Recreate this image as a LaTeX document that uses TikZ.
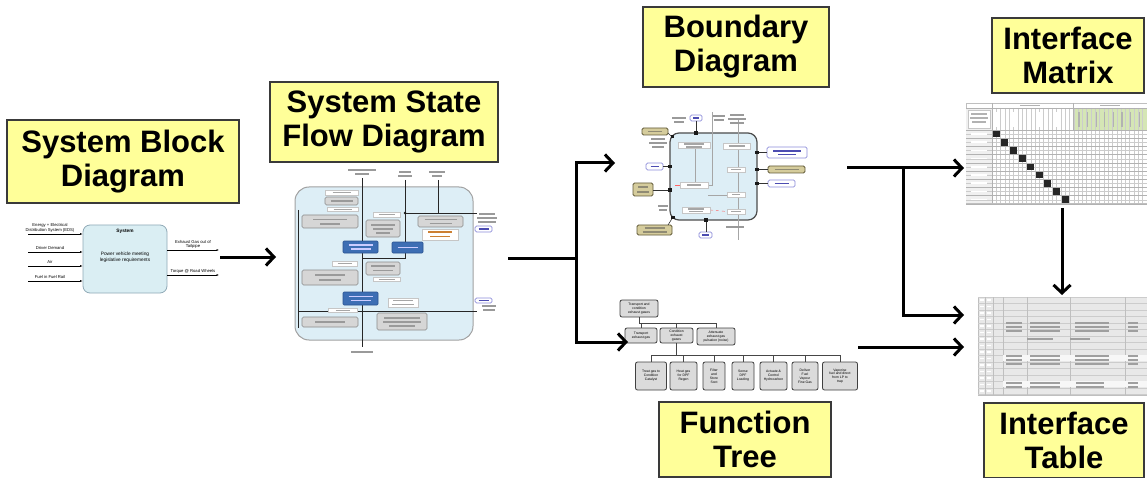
\documentclass[tikz,border=0pt]{standalone}
\usepackage{fontspec}
\setmainfont{Liberation Sans}
\usetikzlibrary{arrows.meta}

\definecolor{lblfill}{HTML}{FFFF99}
\definecolor{lbldraw}{HTML}{3A3A3A}
\definecolor{sysfill}{HTML}{DAEEF3}
\definecolor{sysdraw}{HTML}{8FA9B6}
\definecolor{flowfill}{HTML}{DDEEF6}
\definecolor{bluebox}{HTML}{3D6EB4}
\definecolor{blueedge}{HTML}{2B5390}
\definecolor{greybox}{HTML}{D6D6D6}
\definecolor{greyedge}{HTML}{8A8A8A}
\definecolor{khaki}{HTML}{D5CC9C}
\definecolor{khakiedge}{HTML}{615A38}
\definecolor{hdrgreen}{HTML}{D5E6B5}
\definecolor{inkgrey}{HTML}{9A9A9A}

% short grey stroke standing for a line of unreadably small print
\newcommand\tbar[4][inkgrey]{\draw[line width=1.1pt,#1] ({#2-#4/2},#3) -- ({#2+#4/2},#3);}

\begin{document}
\begin{tikzpicture}[x=1pt,y=-1pt,
  lbl/.style={draw=lbldraw,line width=1.6pt,fill=lblfill,inner sep=0pt,align=center,
    font=\fontsize{31}{34}\selectfont\bfseries},
  bigarrow/.style={line width=3pt,-{Straight Barb[length=8pt,width=17pt]}},
  bigline/.style={line width=3pt},
  tiny/.style={font=\fontsize{4.2}{4.8}\selectfont,inner sep=0pt,align=center},
  sysbox/.style={draw=sysdraw,line width=0.8pt,fill=sysfill,rounded corners=7pt,inner sep=0pt},
  sysin/.style={line width=0.6pt,-{Latex[length=2.5pt,width=2pt]}},
  fline/.style={line width=0.8pt,gray!30!black},
  gbox/.style={draw=greyedge,fill=greybox,rounded corners=1.5pt,line width=0.6pt},
  bbox/.style={draw=blueedge,fill=bluebox,rounded corners=1pt,line width=0.6pt},
  wbox/.style={draw=gray!45,fill=white,line width=0.4pt},
  ebox/.style={draw=gray!50!blue!60,fill=white,rounded corners=1.5pt,line width=0.7pt},
  kbox/.style={draw=khakiedge,fill=khaki,rounded corners=1.5pt,line width=0.9pt},
  port/.style={fill=gray!20!black},
  ftbox/.style={draw=gray!50!black,fill=gray!28,rounded corners=2pt,line width=0.8pt,
    inner sep=0.5pt,align=center,font=\fontsize{3.4}{3.9}\selectfont},
  ftline/.style={line width=0.8pt,gray!55!black}]

\useasboundingbox (0,0) rectangle (1147,478);

%% ---------- title labels ----------
\node[lbl,minimum width=232pt,minimum height=83pt] (sbdlbl) at (123,161.5) {System Block\\Diagram};
\node[lbl,minimum width=228pt,minimum height=80pt] (ssflbl) at (384,122) {System State\\Flow Diagram};
\node[lbl,minimum width=186pt,minimum height=80pt] (bdlbl) at (736,47) {Boundary\\Diagram};
\node[lbl,minimum width=152pt,minimum height=75pt] (imlbl) at (1068,55.5) {Interface\\Matrix};
\node[lbl,minimum width=172pt,minimum height=75pt] (ftlbl) at (745,439.5) {Function\\Tree};
\node[lbl,minimum width=160pt,minimum height=75pt] (itlbl) at (1064,440.5) {Interface\\Table};

%% ---------- system block diagram ----------
\node[sysbox,minimum width=84pt,minimum height=68pt] (sys) at (125,259) {};
\node[tiny,font=\fontsize{4.8}{5.2}\selectfont\bfseries] (systitle) at (125,231) {System};
\node[tiny,font=\fontsize{4.8}{5.8}\selectfont] (sysfn) at (125,257) {Power vehicle meeting\\legislative requirements};
\coordinate (in1) at (28,234);
\coordinate (in2) at (28,252);
\coordinate (in3) at (28,266);
\coordinate (in4) at (28,281);
\foreach \c in {in1,in2,in3,in4} \draw[sysin] (\c) -- (\c -| sys.west);
\node[tiny] (in1l) at (50,228) {Energy + Electrical\\Distribution System (EDS)};
\node[tiny] (in2l) at (50,248) {Driver Demand};
\node[tiny] (in3l) at (50,262) {Air};
\node[tiny] (in4l) at (50,277) {Fuel in Fuel Rail};
\coordinate (out1) at (219,250);
\coordinate (out2) at (219,275);
\foreach \c in {out1,out2} \draw[sysin] (sys.east |- \c) -- (\c);
\node[tiny] (out1l) at (193,244.5) {Exhaust Gas out of\\Tailpipe};
\node[tiny] (out2l) at (193,271) {Torque @ Road Wheels};

%% ---------- system state flow diagram ----------
\node[draw=greyedge!80,line width=1pt,fill=flowfill,rounded corners=14pt,
  minimum width=178pt,minimum height=153pt,inner sep=0pt] (flow) at (384,263.5) {};
\draw[fline] (362,178) -- (362,347);
\draw[fline] (405,180) -- (405,258) -- (362,258);
\draw[fline] (438,180) -- (438,213);
\draw[fline] (405,213) -- (477,213);
\draw[fline] (298,311) -- (477,311);
\draw[fline] (298,210) -- (298,328);
\fill[gray!20!black] (405,213) circle (1.4pt);
% process boxes
\draw[gbox] (325,197) rectangle (358,205);
\draw[gbox] (302,215) rectangle (358,228);
\draw[gbox] (366,220) rectangle (400,237);
\draw[gbox] (418,216) rectangle (463,227);
\draw[gbox] (302,270) rectangle (358,285);
\draw[gbox] (366,262) rectangle (400,275);
\draw[gbox] (302,317) rectangle (358,327);
\draw[gbox] (377,313) rectangle (427,330);
\draw[bbox] (343,241) rectangle (378,253);
\draw[bbox] (392,242) rectangle (423,253);
\draw[bbox] (343,292) rectangle (378,305);
% transition labels
\draw[wbox] (325,190) rectangle (358,195);
\draw[wbox] (327,207) rectangle (358,211.5);
\draw[wbox] (373,212) rectangle (400,217);
\draw[wbox] (422,229) rectangle (458,240);
\draw[wbox] (332,261.5) rectangle (357,266);
\draw[wbox] (373,277) rectangle (400,281.5);
\draw[wbox] (328,308) rectangle (357,312.5);
\draw[wbox] (388,298) rectangle (418,307);
\draw[ebox] (475,226) rectangle (492,232);
\draw[ebox] (475,298) rectangle (492,303);
% small print
\tbar{341.5}{201}{22}
\tbar{330}{219.5}{34}\tbar{330}{224}{20}
\tbar{383}{225}{24}\tbar{383}{229}{20}\tbar{383}{233}{14}
\tbar{440.5}{219.5}{32}\tbar{440.5}{223.5}{22}
\tbar{330}{275}{30}\tbar{330}{280}{22}
\tbar{383}{266}{24}\tbar{383}{270.5}{20}
\tbar{330}{322}{30}
\tbar{402}{318}{36}\tbar{402}{322}{38}\tbar{402}{326}{26}
\tbar[white!80!blue]{360.5}{245}{24}\tbar[white!80!blue]{360.5}{249}{20}
\tbar[white!80!blue]{407.5}{247.5}{20}
\tbar[white!80!blue]{360.5}{296.5}{24}\tbar[white!80!blue]{360.5}{300.5}{20}
\tbar[gray!70]{341.5}{192.5}{18}\tbar[gray!70]{342.5}{209.2}{18}
\tbar[gray!70]{386.5}{214.5}{16}\tbar[orange!60!gray]{440}{232}{24}\tbar[orange!60!gray]{440}{236.5}{20}
\tbar[gray!70]{344.5}{263.7}{14}\tbar[gray!70]{386.5}{279.2}{16}
\tbar[gray!70]{342.5}{310.2}{14}\tbar[gray!70]{403}{300.5}{20}\tbar[gray!70]{403}{304.5}{22}
\tbar[blue!40!gray]{483.5}{229}{10}\tbar[blue!40!gray]{483.5}{300.5}{10}
\tbar{362}{170}{28}\tbar{362}{174}{14}
\tbar{405}{172}{12}\tbar{405}{176}{14}
\tbar{437}{172}{16}\tbar{437}{176}{10}
\tbar{487}{214}{16}\tbar{487}{218}{20}\tbar{487}{222}{18}
\tbar{489}{306}{14}\tbar{489}{310}{12}
\tbar{362}{352}{22}

%% ---------- boundary diagram ----------
\node[draw=gray!60!black,line width=1.2pt,fill=flowfill,rounded corners=9pt,
  minimum width=87pt,minimum height=87pt,inner sep=0pt] (bnd) at (713.5,176.5) {};
\draw[line width=0.4pt,gray!70] (695,148) -- (695,183);
\draw[line width=0.4pt,gray!70] (738,118) -- (738,240);
\draw[line width=0.4pt,gray!70] (712,112) -- (712,185) -- (708,185);
\draw[line width=0.4pt,gray!70] (708,195) -- (727,195);
\draw[line width=0.4pt,red!60,dashed] (710,210) -- (727,211.5);
\draw[line width=0.4pt,red!60] (675,185) -- (680,185);
% neighbouring systems
\draw[kbox] (642,128) rectangle (668,135);
\draw[kbox] (633,183) rectangle (653,196);
\draw[kbox] (637,225) rectangle (672,235);
\draw[kbox] (768,166) rectangle (805,173);
\draw[ebox] (646,163) rectangle (663,170);
\draw[ebox] (690,115) rectangle (702,121);
\draw[ebox] (699,232) rectangle (712,238);
\draw[ebox] (767,147) rectangle (807,158);
\draw[ebox] (768,180) rectangle (795,187);
\draw[line width=0.6pt,gray!40!black] (668,133) -- (672,137);
\draw[line width=0.6pt,gray!40!black] (663,166.5) -- (670,166.5);
\draw[line width=0.6pt,gray!40!black] (653,190) -- (670,190);
\draw[line width=0.6pt,gray!40!black] (668,225) -- (673,217);
\draw[line width=0.6pt,gray!40!black] (696,121) -- (696,133);
\draw[line width=0.6pt,gray!40!black] (706,220) -- (706,232);
\draw[line width=0.6pt,gray!40!black] (757,152.5) -- (767,152.5);
\draw[line width=0.6pt,gray!40!black] (757,169.5) -- (768,169.5);
\draw[line width=0.6pt,gray!40!black] (757,183.5) -- (768,183.5);
\foreach \p in {(672.5,136.5),(670,166.5),(670,190),(673,217.5),(696,133),(706,220),(757,152.5),(757,169.5),(757,183.5)}
  \fill[port] \p ++(-1.6,-1.6) rectangle ++(3.2,3.2);
% internal functions
\draw[wbox] (678,142) rectangle (710,148.5);
\draw[wbox] (723,143) rectangle (750,149);
\draw[wbox] (727,167) rectangle (745,172);
\draw[wbox] (680,182) rectangle (708,188);
\draw[wbox] (727,192) rectangle (745,197);
\draw[wbox] (682,207) rectangle (710,213);
\draw[wbox] (727,209) rectangle (745,214);
\tbar[gray!70]{694}{144}{20}\tbar[gray!70]{694}{147}{16}
\tbar[gray!70]{736.5}{146}{16}\tbar[gray!70]{736}{169.5}{10}
\tbar[gray!70]{694}{185}{14}\tbar[gray!70]{736}{194.5}{8}
\tbar[gray!70]{696}{209}{16}\tbar[gray!70]{696}{211.5}{14}\tbar[gray!70]{736}{211.5}{10}
\tbar[khakiedge!70]{655}{131.5}{14}\tbar[khakiedge!70]{643}{187}{10}\tbar[khakiedge!70]{643}{192}{12}
\tbar[khakiedge!70]{654.5}{228}{20}\tbar[khakiedge!70]{654.5}{232}{24}\tbar[khakiedge!70]{786.5}{169.5}{24}
\tbar[blue!40!gray]{654.5}{166.5}{8}\tbar[blue!40!gray]{696}{118}{6}\tbar[blue!40!gray]{705.5}{235}{7}
\tbar[blue!40!gray]{787}{151}{28}\tbar[blue!40!gray]{787}{154.5}{18}\tbar[blue!40!gray]{781.5}{183.5}{14}
\tbar{679}{118}{14}\tbar{679}{122}{10}
\tbar{719}{116}{12}\tbar{719}{120}{10}
\tbar{737}{115}{14}\tbar{737}{119}{18}\tbar{737}{123}{14}
\tbar{658}{139}{14}\tbar{658}{143}{18}\tbar{658}{147}{12}
\tbar{663}{206}{10}\tbar{663}{210}{8}
\tbar{735}{227}{18}

%% ---------- function tree ----------
\node[ftbox,minimum width=38pt,minimum height=17pt] (fttop) at (639,308.5) {Transport and\\condition\\exhaust gases};
\node[ftbox,minimum width=32pt,minimum height=15pt] (ftA) at (641,335.5) {Transport\\exhaust gas};
\node[ftbox,minimum width=33pt,minimum height=15pt] (ftB) at (676.5,335.5) {Condition\\exhaust\\gases};
\node[ftbox,minimum width=38pt,minimum height=17pt] (ftC) at (716,336.5) {Attenuate\\exhaust gas\\pulsation (noise)};
\foreach \n in {ftA,ftB,ftC} \draw[ftline] (fttop.south) -- ++(0,6) -| (\n.north);
\node[ftbox,minimum width=31pt,minimum height=28pt] (ft1) at (651,376) {Treat gas to\\Condition\\Catalyst};
\node[ftbox,minimum width=27pt,minimum height=28pt] (ft2) at (683.5,376) {Heat gas\\for DPF\\Regen};
\node[ftbox,minimum width=22pt,minimum height=28pt] (ft3) at (714,376) {Filter\\and\\Store\\Soot};
\node[ftbox,minimum width=22pt,minimum height=28pt] (ft4) at (743,376) {Sense\\DPF\\Loading};
\node[ftbox,minimum width=27pt,minimum height=28pt] (ft5) at (773.5,376) {Actuate \&\\Control\\Hydrocarbon};
\node[ftbox,minimum width=26pt,minimum height=28pt] (ft6) at (805,376) {Deliver\\Fuel\\Vapour\\Fine Gas};
\node[ftbox,minimum width=35pt,minimum height=28pt] (ft7) at (840,376) {Vaporise\\fuel and direct\\from LP to\\trap};
\foreach \n in {ft1,ft2,ft3,ft4,ft5,ft6,ft7} \draw[ftline] (ftB.south) -- ++(0,12) -| (\n.north);

%% ---------- interface matrix ----------
\node[draw=gray!50,fill=white,line width=0.5pt,minimum width=181pt,minimum height=100pt,inner sep=0pt] (matrix) at (1056.5,153) {};
\fill[hdrgreen] (1073,108) rectangle (1147,130);
\fill[gray!12] (966,108) rectangle (992,203);
\foreach \i in {0,...,36} \draw[gray!40,line width=0.3pt] ({992+\i*4.3},108) -- ({992+\i*4.3},203);
\foreach \j in {0,...,18} \draw[gray!40,line width=0.3pt] (966,{130+\j*4.1}) -- (1147,{130+\j*4.1});
\foreach \j in {0,...,9} \draw[gray!60,line width=0.4pt] (966,{130+\j*8.2}) -- (1147,{130+\j*8.2});
\draw[gray!60,line width=0.4pt] (966,108) -- (1147,108);
\draw[gray!60,line width=0.4pt] (992,103) -- (992,203);
\draw[gray!60,line width=0.4pt] (1073,103) -- (1073,130);
\draw[wbox] (968,110) rectangle (990,128);
\tbar[gray!60]{979}{114}{16}\tbar[gray!60]{979}{118}{18}\tbar[gray!60]{979}{122}{14}
\tbar[gray!60]{1030}{105.5}{20}\tbar[gray!60]{1110}{105.5}{20}
\foreach \i in {0,...,8} {
  \draw[white,line width=1.3pt] ({996+\i*8.6},112) -- ({996+\i*8.6},127);
  \draw[gray!60,line width=1.3pt] ({1079+\i*8.6},112) -- ({1079+\i*8.6},127);
  \draw[white,line width=1.6pt] (971,{134+\i*8.2}) -- (987,{134+\i*8.2});
  \fill[gray!30!black] ({992.8+\i*8.6},{130.8+\i*8.2}) rectangle ++(7,6.6);
}

%% ---------- interface table ----------
\node[draw=gray!50,fill=gray!18,line width=0.5pt,minimum width=169pt,minimum height=98pt,inner sep=0pt] (table) at (1062.5,346) {};
\foreach \j in {0,...,15} \draw[gray!40,line width=0.3pt] (978,{297+\j*6.5}) -- (1147,{297+\j*6.5});
\foreach \x in {985,993,1003,1027,1070,1125} \draw[gray!50,line width=0.4pt] (\x,297) -- (\x,395);
\fill[white!70!gray!20] (1003,355) rectangle (1147,361);
\fill[white!70!gray!20] (1003,381) rectangle (1147,387);
\foreach \y in {323,327,331} {\tbar[gray!75]{1014}{\y}{16}\tbar[gray!75]{1045}{\y}{30}\tbar[gray!75]{1092}{\y}{34}\tbar[gray!75]{1133}{\y}{10}}
\foreach \y in {356,360,364} {\tbar[gray!75]{1014}{\y}{16}\tbar[gray!75]{1045}{\y}{30}\tbar[gray!75]{1092}{\y}{34}\tbar[gray!75]{1133}{\y}{10}}
\foreach \y in {383,387} {\tbar[gray!75]{1014}{\y}{16}\tbar[gray!75]{1045}{\y}{30}\tbar[gray!75]{1090}{\y}{28}\tbar[gray!75]{1133}{\y}{10}}
\tbar[gray!75]{1040}{339}{26}\tbar[gray!75]{1080}{339}{20}
\foreach \j in {0,...,14} {\tbar[white]{981.5}{{300+\j*6.5}}{4}\tbar[white]{989}{{300+\j*6.5}}{4}}

%% ---------- connecting arrows ----------
\coordinate (a1s) at (220,257);
\coordinate (a1e) at (276,257);
\draw[bigarrow] (a1s) -- (a1e);
\coordinate (f0) at (508,258);
\coordinate (fj) at (576,258);
\coordinate (toB) at (615,163);
\coordinate (toF) at (628,342);
\draw[bigline] (f0) -- (fj);
\draw[bigarrow] (fj) |- (toB);
\draw[bigarrow] (fj) |- (toF);
\coordinate (b0) at (847,168);
\coordinate (bj) at (903,168);
\coordinate (toM) at (964,168);
\coordinate (toT1) at (964,315);
\draw[bigarrow] (b0) -- (toM);
\draw[bigarrow] (bj) |- (toT1);
\coordinate (t0) at (858,347);
\coordinate (toT2) at (964,347);
\draw[bigarrow] (t0) -- (toT2);
\coordinate (m0) at (1062,208);
\coordinate (toT3) at (1062,295);
\draw[bigarrow] (m0) -- (toT3);
\end{tikzpicture}
\end{document}
